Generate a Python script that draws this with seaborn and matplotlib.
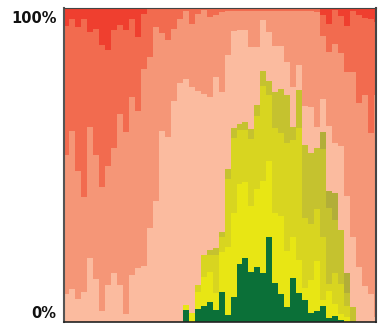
import numpy as np
import pandas as pd
import matplotlib
matplotlib.use("Agg")
import matplotlib.pyplot as plt
import seaborn as sns

# -------- Data (cumulative share from the bottom, in %) --------
bars = list(range(53))

green_top = [0]*20 + [3.7, 0, 3.9, 5.0, 6.3, 3.7, 9.5, 2.1, 7.9, 18.4,
                      20.3, 15.9, 17.5, 15.6, 27.1, 12.2, 8.8, 4.7, 13.9, 9.0,
                      6.9, 2.7, 3.4, 5.0, 1.1, 1.8, 0.5, 0, 0, 0,
                      0, 0, 0]
yellow_top = [0]*20 + [5.2, 2.6, 9.5, 14.3, 15.9, 9.0, 22.3, 23.9, 34.5, 43.9,
                       44.4, 37.0, 42.3, 44.7, 51.1, 34.6, 33.7, 22.6, 27.1, 19.6,
                       10.8, 13.3, 19.3, 6.9, 9.7, 5.6, 2.4, 1.5, 0, 0,
                       0, 0, 0]
yolive_top = [0]*20 + [5.2, 2.6, 11.7, 21.2, 21.2, 21.2, 27.1, 45.5, 58.5, 61.2,
                       61.2, 58.2, 65.4, 75.2, 72.4, 61.7, 60.0, 56.9, 58.0, 61.7,
                       33.0, 31.0, 36.0, 27.0, 12.0, 15.4, 12.0, 4.8, 0, 0,
                       0, 0, 0]
olive_top = [0]*20 + [5.2, 2.6, 11.7, 21.2, 22.8, 23.3, 28.7, 48.7, 61.7, 63.1,
                      63.6, 61.4, 68.9, 79.8, 76.8, 73.1, 74.1, 72.4, 61.9, 73.7,
                      56.4, 53.9, 55.5, 55.0, 36.2, 32.4, 29.2, 9.1, 4.7, 0,
                      0, 0, 0]
dolive_top = [0]*20 + [5.2, 2.6, 11.7, 21.2, 22.8, 23.3, 28.7, 48.7, 61.7, 63.1,
                       63.6, 61.4, 68.9, 79.8, 76.8, 73.1, 74.1, 72.4, 61.9, 73.7,
                       56.4, 53.9, 55.5, 60.3, 41.5, 40.9, 29.2, 15.4, 4.7, 0,
                       0, 0, 0]
lsalmon_top = [8.8, 10.5, 7.3, 9.5, 20.4, 13.7, 3.5, 11.7, 15.6, 11.7,
               2.3, 14.9, 17.2, 17.7, 29.9, 38.5, 60.9, 58.7, 70.2, 76.1,
               77.5, 74.7, 73.4, 72.6, 71.5, 77.9, 73.1, 85.1, 92.8, 93.1,
               93.1, 87.5, 87.5, 96.3, 92.2, 88.0, 88.0, 82.7, 74.7, 81.9,
               68.6, 68.3, 62.2, 71.1, 62.5, 56.9, 55.9, 39.9, 27.1, 17.5,
               11.3, 8.8, 1.5]
salmon_top = [53.2, 60.9, 48.1, 39.6, 62.2, 53.2, 42.8, 49.5, 55.5, 66.3,
              60.3, 71.5, 67.1, 80.4, 84.4, 93.8, 92.0, 89.7, 93.4, 96.6,
              99.1, 95.0, 98.2, 99.5, 97.1, 97.9, 98.8, 99.2, 99.0, 99.2,
              99.2, 99.0, 99.2, 99.2, 99.2, 99.2, 99.2, 99.2, 99.0, 99.2,
              99.2, 99.2, 98.8, 91.2, 85.9, 88.5, 85.7, 79.5, 79.5, 69.7,
              72.4, 60.1, 72.4]
coral_top = [94.2, 96.6, 93.9, 96.6, 92.3, 93.4, 88.1, 86.5, 92.9, 94.7,
             92.9, 96.6, 90.7, 98.2] + [99.6]*29 + [97.9, 95.0, 99.5, 97.6,
             94.2, 98.9, 97.9, 96.8, 96.6, 95.4]
red_top = [100]*53

# top layer first, each later layer paints over the one above it
layers = [
    (red_top, "#ef3f2f"),
    (coral_top, "#f26b4f"),
    (salmon_top, "#f59677"),
    (lsalmon_top, "#fbbb9f"),
    (dolive_top, "#b2ae38"),
    (olive_top, "#c5c22f"),
    (yolive_top, "#d8d520"),
    (yellow_top, "#e8e614"),
    (green_top, "#0b7038"),
]

# -------- Plot --------
fig = plt.figure(figsize=(3.8, 3.24), dpi=100)
ax = fig.add_axes([63.5 / 380, 2.5 / 324, 312.5 / 380, 313.5 / 324])

for tops, col in layers:
    sns.barplot(x=bars, y=tops, color=col, width=1, saturation=1,
                errorbar=None, linewidth=0, antialiased=False, ax=ax)

ax.set_xlim(-0.5, 51.88)
ax.set_ylim(0, 100)
ax.set_xticks([])
ax.set_yticks([])
ax.set_xlabel("")
ax.set_ylabel("")

ax.spines["left"].set_color("#555555")
ax.spines["left"].set_linewidth(1.5)
ax.spines["right"].set_color("#444444")
ax.spines["right"].set_linewidth(1.5)
ax.spines["bottom"].set_color("#222222")
ax.spines["bottom"].set_linewidth(1.2)
ax.spines["top"].set_color("#444444")
ax.spines["top"].set_linewidth(0.8)

fig.text(56.7 / 380, 1 - 18.3 / 324, "100%", ha="right", va="center",
         fontsize=10.5, fontweight="bold", color="#111111")
fig.text(56.7 / 380, 1 - 313.8 / 324, "0%", ha="right", va="center",
         fontsize=10.5, fontweight="bold", color="#111111")

fig.savefig("out.png", dpi=100)
plt.close(fig)
